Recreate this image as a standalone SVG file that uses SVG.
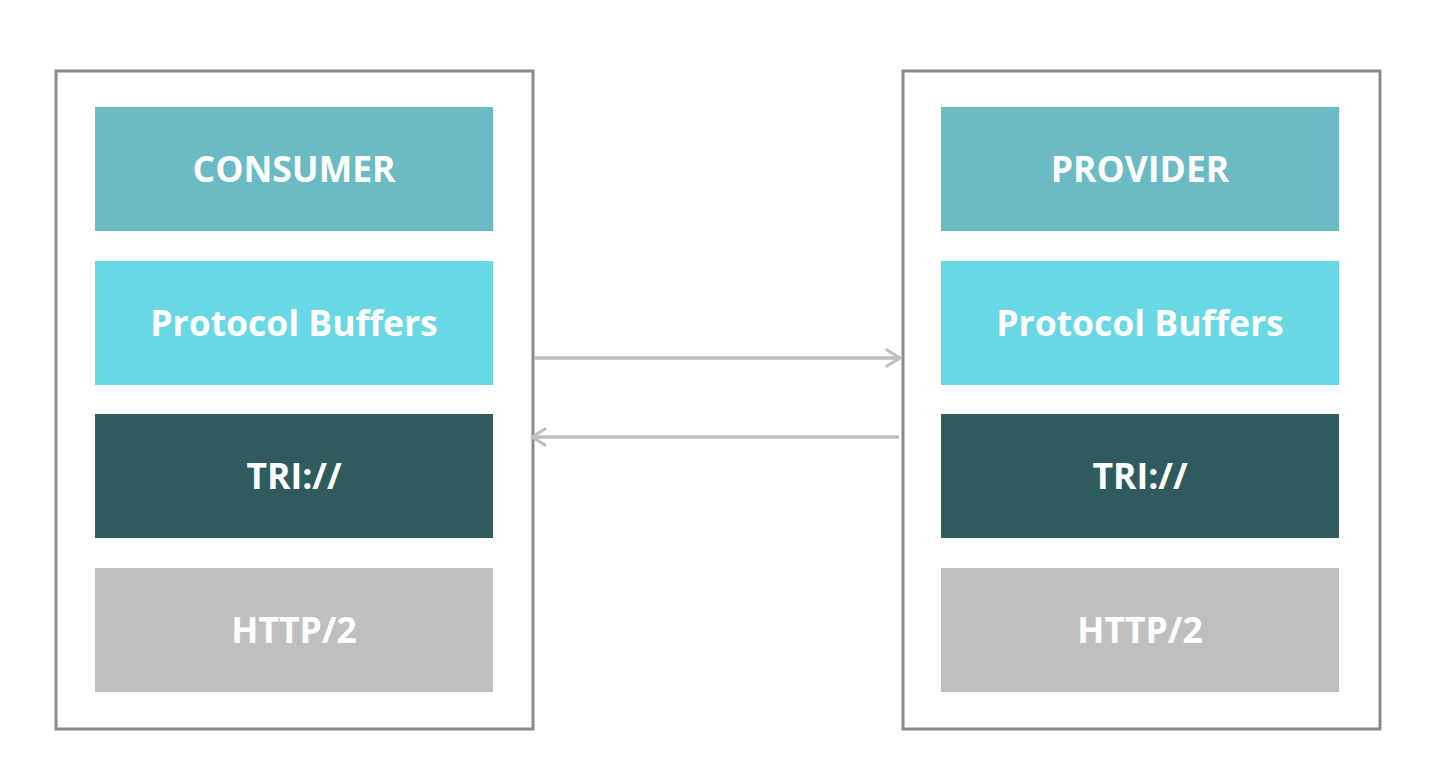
<svg xmlns="http://www.w3.org/2000/svg" width="1436" height="772" viewBox="0 0 1436 772">
<style>
.outer{fill:#fff;stroke:#8a8a8a;stroke-width:3}
.t{font-family:"Open Sans","Noto Sans","Liberation Sans",sans-serif;font-weight:700;font-size:35.5px;fill:#fff;text-anchor:middle;dominant-baseline:central}
.c1{fill:#6bbbc5}.c2{fill:#68d9e4}.c3{fill:#2f5b5e}.c4{fill:#bfbfbf}
.conn{stroke:#bfbfbf;stroke-width:3.5;fill:none}
</style>
<defs>
<marker id="ah" viewBox="0 0 20 20" refX="17" refY="10" markerWidth="20" markerHeight="20" markerUnits="userSpaceOnUse" orient="auto">
<path d="M4,2 L17,10 L4,18" fill="none" stroke="#bfbfbf" stroke-width="3.2" stroke-linecap="round" stroke-linejoin="round"/>
</marker>
</defs>
<rect width="1436" height="772" fill="#fff"/>
<g id="consumer-stack">
<rect class="outer" x="56" y="71" width="477" height="658"/>
<g id="consumer"><rect class="c1" x="95" y="107" width="398" height="124"/><text class="t" x="294" y="168">CONSUMER</text></g>
<g id="consumer-pb"><rect class="c2" x="95" y="261" width="398" height="124"/><text class="t" x="294" y="322">Protocol Buffers</text></g>
<g id="consumer-tri"><rect class="c3" x="95" y="414" width="398" height="124"/><text class="t" x="294" y="475">TRI://</text></g>
<g id="consumer-http"><rect class="c4" x="95" y="568" width="398" height="124"/><text class="t" x="294" y="629">HTTP/2</text></g>
</g>
<g id="provider-stack">
<rect class="outer" x="903" y="71" width="477" height="658"/>
<g id="provider"><rect class="c1" x="941" y="107" width="398" height="124"/><text class="t" x="1140" y="168">PROVIDER</text></g>
<g id="provider-pb"><rect class="c2" x="941" y="261" width="398" height="124"/><text class="t" x="1140" y="322">Protocol Buffers</text></g>
<g id="provider-tri"><rect class="c3" x="941" y="414" width="398" height="124"/><text class="t" x="1140" y="475">TRI://</text></g>
<g id="provider-http"><rect class="c4" x="941" y="568" width="398" height="124"/><text class="t" x="1140" y="629">HTTP/2</text></g>
</g>
<g id="connectors">
<line class="conn" x1="534" y1="358" x2="900" y2="358" marker-end="url(#ah)"/>
<line class="conn" x1="899" y1="437" x2="532" y2="437" marker-end="url(#ah)"/>
</g>
</svg>
